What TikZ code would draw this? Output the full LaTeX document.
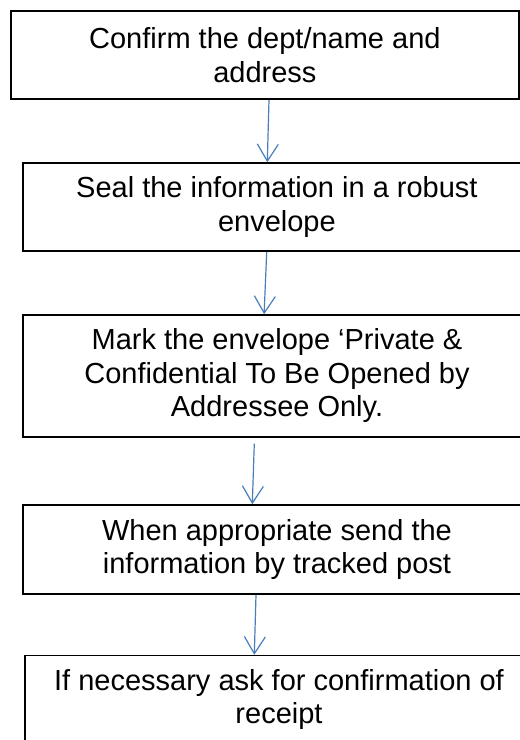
\documentclass[tikz,border=0pt]{standalone}
\usepackage{fontspec}
\setmainfont{Liberation Sans}
\usetikzlibrary{arrows.meta}
\definecolor{flowblue}{HTML}{4A7EBB}
\tikzset{
  stepbox/.style={draw=black, line width=1.6pt, inner sep=0pt, align=center,
    font=\fontsize{29}{33.5}\selectfont, text=black},
  flowarrow/.style={draw=flowblue, line width=1.2pt,
    -{Straight Barb[length=17pt,width=21pt,line width=1.2pt]}}
}
\begin{document}
\begin{tikzpicture}[x=1pt,y=-1pt]
\useasboundingbox (0,0) rectangle (520,740);
\clip (0,0) rectangle (520,740);
\fill[white] (0,0) rectangle (520,740);
\node[stepbox, minimum width=507.7pt, minimum height=88.3pt] (b1) at (264.9,54.9)
  {Confirm the dept/name and\\address};
\node[stepbox, minimum width=508.3pt, minimum height=87.7pt] (b2) at (276.9,206.9)
  {Seal the information in a robust\\envelope};
\node[stepbox, minimum width=508pt, minimum height=121.7pt] (b3) at (277,375.9)
  {Mark the envelope ‘Private \&\\Confidential To Be Opened by\\Addressee Only.};
\node[stepbox, minimum width=508pt, minimum height=89pt] (b4) at (277,549.5)
  {When appropriate send the\\information by tracked post};
\node[stepbox, minimum width=508pt, minimum height=88pt] (b5) at (279,699.6)
  {If necessary ask for confirmation of\\receipt};
\draw[flowarrow] ([xshift=4.1pt]b1.south) -- ([xshift=-9.6pt]b2.north);
\draw[flowarrow] ([xshift=-10.2pt,yshift=-0.5pt]b2.south) -- ([xshift=-12.9pt]b3.north);
\draw[flowarrow] ([xshift=-22.7pt,yshift=-6pt]b3.south) -- ([xshift=-24.7pt]b4.north);
\draw[flowarrow] ([xshift=-21pt]b4.south) -- ([xshift=-24.7pt]b5.north);
\end{tikzpicture}
\end{document}
